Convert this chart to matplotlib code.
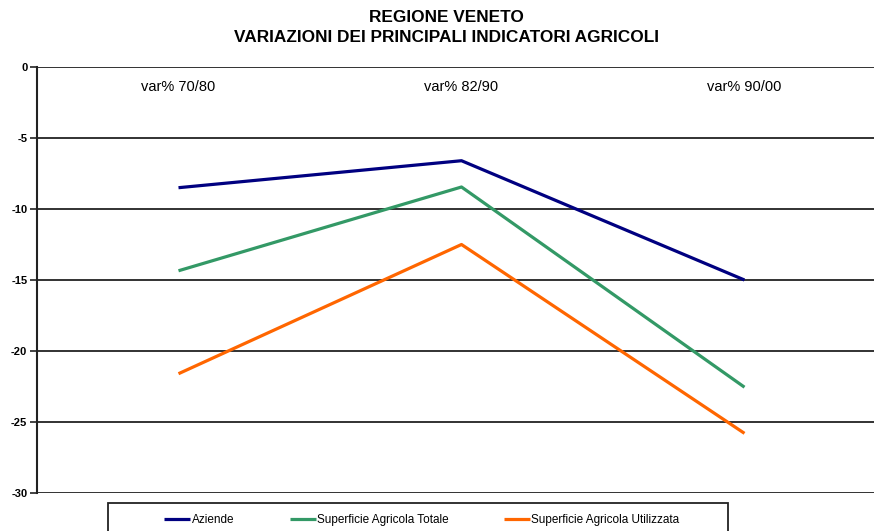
import matplotlib
matplotlib.use("Agg")
import matplotlib.pyplot as plt
from matplotlib.patches import Rectangle

categories = ["var% 70/80", "var% 82/90", "var% 90/00"]
aziende = [-8.5, -6.6, -15.0]
sup_totale = [-14.35, -8.45, -22.55]
sup_utilizzata = [-21.6, -12.5, -25.8]
series_names = ["Aziende", "Superficie Agricola Totale", "Superficie Agricola Utilizzata"]
yticks = [0, -5, -10, -15, -20, -25, -30]

plt.rcParams['font.family'] = ['Liberation Sans', 'DejaVu Sans']

W, H = 874, 531
fig = plt.figure(figsize=(W / 100, H / 100), dpi=100)
ax = fig.add_axes([37 / W, 1 - 493 / H, (886 - 37) / W, (493 - 67) / H])

x = list(range(len(categories)))
colors = ["#000080", "#339966", "#FF6600"]
for vals, name, c in zip([aziende, sup_totale, sup_utilizzata], series_names, colors):
    ax.plot(x, vals, color=c, lw=2.3, label=name, solid_capstyle='butt')

ax.set_xlim(-0.5, len(categories) - 0.5)
ax.set_ylim(-30, 0)
ax.set_yticks(yticks)
ax.set_yticklabels([str(v) for v in yticks], fontsize=8, fontweight='bold')
for v in yticks:
    ax.axhline(v, color="#222222", lw=1.3, zorder=0)

ax.set_xticks(x)
ax.set_xticklabels(categories, fontsize=10.5)
ax.tick_params(axis='x', bottom=False, labelbottom=False, top=False, labeltop=True, pad=-23)
ax.tick_params(axis='y', length=5, width=1.2, color="#222222", pad=2)

for s in ["top", "right", "bottom"]:
    ax.spines[s].set_visible(False)
ax.spines["left"].set_linewidth(1.5)
ax.spines["left"].set_color("#222222")

fig.text(446 / W, 1 - 18 / H, "REGIONE VENETO", ha='center', va='center', fontsize=12.4, fontweight='bold')
fig.text(446 / W, 1 - 37 / H, "VARIAZIONI DEI PRINCIPALI INDICATORI AGRICOLI", ha='center', va='center', fontsize=12.4, fontweight='bold')

# legend box
fig.patches.append(Rectangle((108 / W, -0.05), (728 - 108) / W, 0.05 + 1 - 503 / H,
                             transform=fig.transFigure, fill=False, edgecolor="#222222", lw=1.3))
handles, labels = ax.get_legend_handles_labels()
fig.legend(handles, labels, loc='center left', bbox_to_anchor=(155 / W, 1 - 520 / H),
           ncol=3, frameon=False, fontsize=8.5, handlelength=2.2, handletextpad=0.1,
           columnspacing=4.7, borderpad=0.3)

fig.savefig("out.png", dpi=100)
